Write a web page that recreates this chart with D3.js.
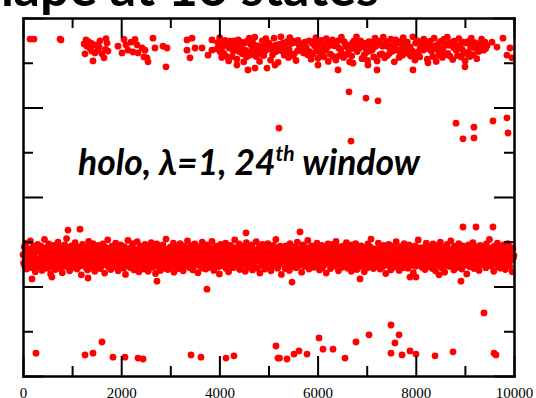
<!DOCTYPE html>
<html><head><meta charset="utf-8">
<script src="https://cdn.jsdelivr.net/npm/d3@7"></script>
<style>
html,body{margin:0;padding:0;background:#fff;overflow:hidden;}
svg{display:block;}
</style></head>
<body>
<svg id="chart" width="536" height="398"></svg>
<script>
// ---------------- DATA ----------------
const xTicksMajor = [0, 2000, 4000, 6000, 8000, 10000];
const xTicksMinor = [1000, 3000, 5000, 7000, 9000];
const yTicksMajor = [0, 2, 4, 6, 8];
const yTicksMinor = [1, 3, 5, 7];
const titleText = "Shape at 16 states";
const annotation = ["holo, \u03bb=1, 24", "th", " window"];

// main state: one value per sample, samples evenly spaced over 0..10000 steps
const mainBand = [
2.71,2.52,2.88,2.45,2.63,2.97,2.39,2.76,2.58,2.84,2.47,2.69,3.02,2.55,2.80,2.42,2.66,2.91,2.50,2.74,2.33,2.61,2.86,2.57,2.94,
2.44,2.79,2.62,2.49,2.90,2.68,2.36,2.82,2.54,2.73,3.05,2.46,2.65,2.87,2.41,2.59,2.78,2.95,2.51,2.70,2.28,2.85,2.60,2.43,2.77,
2.92,2.56,2.67,2.38,2.83,2.48,2.72,2.99,2.53,2.64,2.89,2.40,2.75,2.58,2.31,2.81,2.62,2.46,2.93,2.69,2.52,3.07,2.44,2.78,2.60,
2.87,2.35,2.66,2.55,2.91,2.47,2.73,2.84,2.42,2.63,2.98,2.50,2.76,2.39,2.68,2.88,2.57,2.45,2.81,2.61,2.26,2.72,2.94,2.49,2.67,
2.80,2.54,2.43,2.90,2.65,2.37,2.77,3.01,2.59,2.48,2.85,2.70,2.41,2.62,2.96,2.53,2.74,2.34,2.86,2.58,2.69,2.45,2.92,2.64,2.51,
2.75,2.40,2.83,2.61,2.47,2.95,2.56,2.71,2.30,2.88,2.64,2.52,2.79,3.04,2.44,2.67,2.85,2.57,2.38,2.73,2.90,2.49,2.62,2.81,2.55,
2.68,2.97,2.43,2.77,2.59,2.35,2.86,2.50,2.72,2.93,2.46,2.65,2.82,2.54,2.41,2.89,2.70,2.27,2.60,2.84,2.48,3.03,2.66,2.53,2.78,
2.42,2.87,2.63,2.51,2.96,2.74,2.37,2.58,2.83,2.45,2.69,3.00,2.55,2.80,2.33,2.64,2.91,2.47,2.76,2.60,2.52,2.85,2.39,2.71,2.94,
2.57,2.46,2.82,2.68,2.34,2.90,2.61,2.75,2.49,2.98,2.56,2.43,2.79,2.66,2.87,2.52,2.29,2.73,2.95,2.62,2.44,2.81,2.58,2.70,2.36,
2.85,2.64,2.48,2.93,2.59,2.77,2.41,2.69,3.06,2.54,2.83,2.38,2.72,2.61,2.50,2.88,2.67,2.45,2.80,2.56,2.97,2.32,2.75,2.63,2.47,
2.89,2.70,2.53,2.40,2.84,2.66,2.96,2.58,2.44,2.78,2.62,2.35,2.91,2.51,2.74,2.60,2.86,2.46,3.02,2.68,2.55,2.79,2.42,2.65,2.92,
2.50,2.73,2.37,2.82,2.59,2.95,2.48,2.67,2.86,2.54,2.31,2.76,2.63,2.89,2.45,2.70,2.57,2.99,2.41,2.84,2.61,2.52,2.77,2.39,2.66,
2.93,2.56,2.81,2.43,2.69,2.87,2.60,2.47,3.01,2.74,2.53,2.36,2.83,2.64,2.49,2.90,2.58,2.72,2.44,2.80,2.28,2.67,2.94,2.55,2.71,
2.46,2.88,2.62,2.75,2.51,2.97,2.40,2.68,2.85,2.57,2.33,2.79,2.65,2.92,2.48,2.73,2.59,2.42,2.87,2.54,3.04,2.70,2.45,2.82,2.61,
2.76,2.52,2.95,2.38,2.66,2.84,2.58,2.47,2.90,2.69,2.55,2.78,2.34,2.63,2.98,2.50,2.86,2.43,2.71,2.60,2.81,2.49,2.67,2.93,2.37,
2.64,2.83,2.45,2.72,2.56,3.00,2.68,2.41,2.79,2.59,2.88,2.30,2.75,2.53,2.66,2.94,2.47,2.82,2.62,2.39,2.85,2.57,2.73,2.50,2.96,
2.58,2.44,2.87,2.70,2.35,2.81,2.63,2.52,2.92,2.76,2.46,2.68,3.05,2.55,2.84,2.41,2.65,2.78,2.49,2.90,2.61,2.27,2.74,2.86,2.54,
2.79,2.67,2.40,2.91,2.57,2.73,2.48,2.85,2.62,2.36,2.96,2.51,2.69,2.83,2.44,2.77,2.60,2.53,2.89,2.66,2.42,2.80,2.99,2.56,2.71,
2.47,2.84,2.59,2.75,2.32,2.68,2.93,2.54,2.80,2.45,2.63,2.87,2.50,2.72,3.03,2.58,2.39,2.82,2.65,2.48,2.91,2.70,2.55,2.78,2.43,
2.88,2.61,2.74,2.51,2.97,2.46,2.69,2.83,2.37,2.64,2.79,2.56,2.92,2.42,2.76,2.60,2.85,2.49,2.67,2.30,2.81,2.58,2.95,2.53,2.72,
2.65,2.40,2.86,2.57,2.73,2.94,2.48,2.62,2.80,2.45,3.01,2.70,2.54,2.89,2.35,2.77,2.63,2.51,2.84,2.68,2.43,2.90,2.59,2.75,2.47,
2.83,2.55,2.98,2.66,2.41,2.78,2.60,2.87,2.50,2.71,2.34,2.93,2.64,2.46,2.82,2.57,2.74,2.96,2.52,2.38,2.69,2.85,2.62,2.44,2.79,
2.56,2.91,2.68,2.47,2.75,2.61,2.33,2.86,2.53,2.80,2.67,2.42,2.95,2.59,2.72,2.49,2.88,3.06,2.64,2.55,2.78,2.40,2.70,2.84,2.58,
2.73,2.45,2.82,2.62,2.97,2.51,2.69,2.39,2.87,2.57,2.76,2.44,2.65,2.92,2.54,2.81,2.29,2.68,2.48,2.85,2.60,2.94,2.52,2.71,2.37,
2.90,2.63,2.50,2.77,2.43,2.86,2.66,2.55,3.00,2.70,2.46,2.83,2.59,2.36,2.74,2.89,2.62,2.51,2.79,2.42,2.67,2.96,2.57,2.81,2.48,
2.69,2.84,2.41,2.61,2.93,2.53,2.78,2.47,2.72,2.88,2.56,2.31,2.75,2.64,2.91,2.45,2.82,2.58,2.70,3.04,2.49,2.66,2.86,2.54,2.77,
2.43,2.71,2.87,2.55,2.68,2.38,2.80,2.97,2.60,2.50,2.76,2.63,2.89,2.44,2.73,2.57,2.84,2.40,2.95,2.65,2.52,2.78,2.35,2.69,2.92,
2.59,2.82,2.46,2.74,2.62,2.99,2.53,2.85,2.41,2.67,2.79,2.56,2.32,2.88,2.70,2.48,2.94,2.61,2.77,2.45,2.83,2.58,3.02,2.66,2.51,
2.80,2.64,2.37,2.90,2.57,2.73,2.49,2.86,2.68,2.43,2.96,2.60,2.75,2.52,2.81,2.39,2.69,2.91,2.55,2.78,2.47,2.63,2.87,2.28,2.72,
2.54,2.93,2.66,2.44,2.79,2.61,2.85,2.50,2.98,2.71,2.40,2.76,2.58,2.89,2.65,2.46,2.83,2.56,2.36,2.74,2.92,2.62,2.49,2.81,2.67,
2.88,2.52,2.75,2.60,2.42,2.95,2.69,2.83,2.48,2.64,3.05,2.57,2.78,2.45,2.86,2.53,2.71,2.34,2.90,2.63,2.80,2.51,2.67,2.97,2.44,
2.76,2.59,2.84,2.41,2.70,2.87,2.55,2.63,2.93,2.47,2.74,2.38,2.82,2.66,2.52,2.96,2.61,2.79,2.45,2.88,2.58,2.72,2.33,2.85,2.64,
2.69];
const mainFirstStep = 0, mainLastStep = 10000;

// upper state, continuous stretch: one value per 14 steps starting at step 3950 (null = not in this state)
const topFirstStep = 3950, topStepSize = 14;
const topBand = [
7.31,7.45,null,7.38,7.56,7.24,null,7.12,7.35,7.47,7.21,null,7.50,7.15,7.39,null,7.44,7.04,7.33,7.48,null,7.36,7.14,7.42,7.26,
7.49,null,7.34,7.43,7.08,null,7.51,7.25,7.40,null,7.37,7.46,7.20,null,7.02,7.44,7.28,null,7.13,7.48,7.23,null,7.55,7.17,7.41,
7.27,null,7.45,7.33,7.21,7.57,null,7.14,7.38,null,7.24,7.36,7.03,null,7.29,7.19,7.49,null,7.16,7.40,7.26,7.54,null,7.37,7.45,
null,7.43,7.31,7.06,null,7.35,7.18,7.28,7.55,null,7.39,7.25,null,7.32,7.01,7.41,null,7.37,7.58,7.27,null,7.44,7.30,7.17,null,
7.34,7.21,7.47,null,7.12,7.29,7.56,null,7.43,7.16,null,7.48,7.19,null,7.45,7.05,null,7.26,7.50,null,7.37,null,7.28,null,7.42,
null,7.22,null,7.46,null,7.33,null,7.18,null,7.49,7.25,null,7.08,7.44,null,7.20,7.47,7.38,null,7.56,7.27,null,7.10,7.34,7.45,
7.23,null,7.50,7.17,7.31,null,7.13,7.39,7.28,7.54,null,7.35,7.03,7.46,null,7.19,7.42,null,7.51,7.14,7.38,null,7.45,7.06,7.40,
null,7.49,7.33,7.16,null,7.30,7.57,7.20,null,7.12,7.47,null,7.41,7.18,7.35,null,7.22,7.39,7.02,null,7.31,7.15,7.43,null,7.48,
7.34,null,7.40,7.58,7.25,null,7.45,7.32,null,7.49,7.37,7.09,null,7.44,7.17,7.36,null,7.23,7.42,7.05,null,7.47,7.26,7.39,null,
7.46,7.29,null,7.13,7.35,7.55,null,7.38,7.04,7.44,null,7.48,7.18,null,7.43,7.20,7.37,7.57,null,7.11,7.40,null,7.47,7.16,7.36,
null,7.21,7.33,7.53,null,7.39,7.26,null,7.02,7.31,7.51,null,7.44,7.28,null,7.12,7.47,7.23,null,7.34,7.17,7.56,null,7.43,7.25,
7.38,null,7.46,7.32,7.20,null,7.35,7.15,null,7.27,7.58,7.22,null,7.06,7.44,null,7.18,7.49,7.25,null,7.13,7.34,7.47,null,7.39,
7.28,7.53,null,7.36,7.43,null,7.08,7.45,7.31,null,7.48,7.37,7.26,null,7.14,7.33,7.55,null,7.38,7.03,null,7.29,7.41,7.17,null,
7.47,7.23,null,7.12,7.32,7.52,null,7.44,7.18,null,7.57,7.21,7.39,null,7.15,7.45,null,7.42,7.07,7.34,7.48,null,7.37,7.28,null,
7.16,7.33,7.54,null,7.41,7.13,null,7.29,7.46,7.22,null,7.04,7.44,null,7.19,7.47,7.24,null,7.14,7.36,7.55,null,7.42,7.18,7.34,
7.45,null,7.39,7.09,7.30,null,7.25,7.43,null,7.37,7.53,null,7.41,7.28,null,7.46,7.32,null,7.38];

// upper state, isolated visits: [step, value]
const topVisits = [
[143,7.53],[224,7.53],[754,7.53],[774,7.51],
[1245,7.42],[1263,7.20],[1283,7.51],[1303,7.37],[1330,7.47],[1365,7.33],[1385,7.44],[1400,7.26],[1426,7.04],[1466,7.40],
[1466,7.22],[1527,7.28],[1550,7.35],[1568,7.49],[1609,7.20],[1650,7.11],[1680,7.30],[1690,7.54],[1711,7.44],[1731,7.26],
[1935,7.37],[2016,7.22],[2057,7.52],[2098,7.40],[2138,7.28],[2200,7.46],[2240,7.24],[2281,7.52],[2322,7.40],[2342,7.22],
[2424,7.33],[2464,7.13],[2485,7.28],[2525,7.11],[2546,7.02],[2648,7.55],[2688,7.33],[2851,7.37],[2912,6.91],[2933,7.33],
[3340,7.51],[3340,7.28],[3401,7.11],[3442,7.55],[3503,7.33],[3646,7.33],[3768,7.17],[3849,7.51],[3849,7.28],
[4358,6.95],[4582,6.84],[4725,6.88],[4969,6.88],[5132,6.95],[6008,6.95],[6415,6.84],[6721,6.99],[7026,6.95],[7210,6.84],
[7943,6.84],[8248,7.00],[9002,6.91],
[9552,7.46],[9654,7.35],[9776,7.55],[9857,7.17],[9919,7.33],[9959,7.11]];

// lower state visits: [step, value]
const bottomVisits = [
[265,0.51],[1263,0.47],[1426,0.51],[1609,0.76],[1833,0.42],[2077,0.42],[2342,0.40],[2444,0.38],[3422,0.47],[3625,0.42],
[4134,0.40],[4297,0.45],[5153,0.67],[5193,0.40],[5225,0.40],[5377,0.38],[5519,0.49],[5621,0.56],[5784,0.49],[6029,0.85],
[6110,0.60],[6314,0.60],[6558,0.40],[6782,0.76],[7047,0.92],[7495,1.14],[7658,0.92],[7576,0.74],[7495,0.51],[7719,0.47],
[7882,0.56],[8004,0.49],[8391,0.45],[8758,0.54],[9389,1.41],[9593,0.51],[9633,0.47]];

// transitional samples: [step, value]
const strays = [
[916,3.26],[1161,3.28],[183,2.17],[1324,2.19],[590,2.21],[8961,3.33],[9226,3.33],[9572,3.33],[8921,2.12],[7882,2.21],
[8004,2.21],[8473,2.26],[3747,1.94],[2729,2.12],[5479,2.10],[6864,2.17],[4542,3.20],[5642,3.22],
[5214,5.54],[6680,5.25],[8819,5.65],[9185,5.56],[8961,5.30],[9185,5.32],[9572,5.70],[9857,5.77],[9878,5.43],
[6640,6.35],[6986,6.21],[7230,6.15]];

// ---------------- DRAW ----------------
const svg = d3.select("#chart");
const x = d3.scaleLinear().domain([0, 10000]).range([23, 514]);
const y = d3.scaleLinear().domain([0, 8]).range([376, 18]);
const red = "#ff0000", R = 3.4;

const nMain = mainBand.length;
const mainPts = mainBand.map((v, i) => [mainFirstStep + i * (mainLastStep - mainFirstStep) / (nMain - 1), v]);
const topPts = topBand.map((v, i) => [topFirstStep + i * topStepSize, v]).filter(d => d[1] !== null);
const allPts = mainPts.concat(topPts, topVisits, bottomVisits, strays);

svg.append("g").selectAll("circle").data(allPts).join("circle")
  .attr("cx", d => x(d[0])).attr("cy", d => y(d[1])).attr("r", R).attr("fill", red);

// slide title, mostly above the visible area as in the reference
svg.append("text").attr("x", -44).attr("y", 6)
  .attr("font-family", "Lato, 'Open Sans', sans-serif").attr("font-weight", "bold")
  .attr("font-size", 52).attr("fill", "#000").text(titleText);

// annotation
const ann = svg.append("text").attr("x", 78).attr("y", 175)
  .attr("font-family", "Lato, 'Open Sans', sans-serif").attr("font-weight", "bold")
  .attr("font-style", "italic").attr("font-size", 35.5).attr("fill", "#000");
ann.append("tspan").text(annotation[0]);
ann.append("tspan").attr("dy", -14).attr("font-size", 21).text(annotation[1]);
ann.append("tspan").attr("dy", 14).text(annotation[2]);

// axes (ticks point inward on all four sides)
function styleAxis(g) {
  g.selectAll("path,line").attr("stroke", "#000").attr("stroke-width", 2);
}
const gB1 = svg.append("g").attr("transform", "translate(0,376)")
  .call(d3.axisBottom(x).tickValues(xTicksMajor).tickSize(-20).tickSizeOuter(0).tickPadding(11).tickFormat(d3.format("d")));
gB1.selectAll("text").attr("font-family", "'Liberation Serif', 'Times New Roman', serif").attr("font-size", 15).attr("fill", "#000");
styleAxis(gB1);
styleAxis(svg.append("g").attr("transform", "translate(0,376)")
  .call(d3.axisBottom(x).tickValues(xTicksMinor).tickSize(-10).tickSizeOuter(0).tickFormat("")));
styleAxis(svg.append("g").attr("transform", "translate(0,18)")
  .call(d3.axisTop(x).tickValues(xTicksMajor).tickSize(-20).tickSizeOuter(0).tickFormat("")));
styleAxis(svg.append("g").attr("transform", "translate(0,18)")
  .call(d3.axisTop(x).tickValues(xTicksMinor).tickSize(-10).tickSizeOuter(0).tickFormat("")));
styleAxis(svg.append("g").attr("transform", "translate(23,0)")
  .call(d3.axisLeft(y).tickValues(yTicksMajor).tickSize(-20).tickSizeOuter(0).tickFormat("")));
styleAxis(svg.append("g").attr("transform", "translate(23,0)")
  .call(d3.axisLeft(y).tickValues(yTicksMinor).tickSize(-10).tickSizeOuter(0).tickFormat("")));
styleAxis(svg.append("g").attr("transform", "translate(514,0)")
  .call(d3.axisRight(y).tickValues(yTicksMajor).tickSize(-20).tickSizeOuter(0).tickFormat("")));
styleAxis(svg.append("g").attr("transform", "translate(514,0)")
  .call(d3.axisRight(y).tickValues(yTicksMinor).tickSize(-10).tickSizeOuter(0).tickFormat("")));
svg.selectAll(".domain").attr("stroke-linecap", "square");
</script>
</body></html>
